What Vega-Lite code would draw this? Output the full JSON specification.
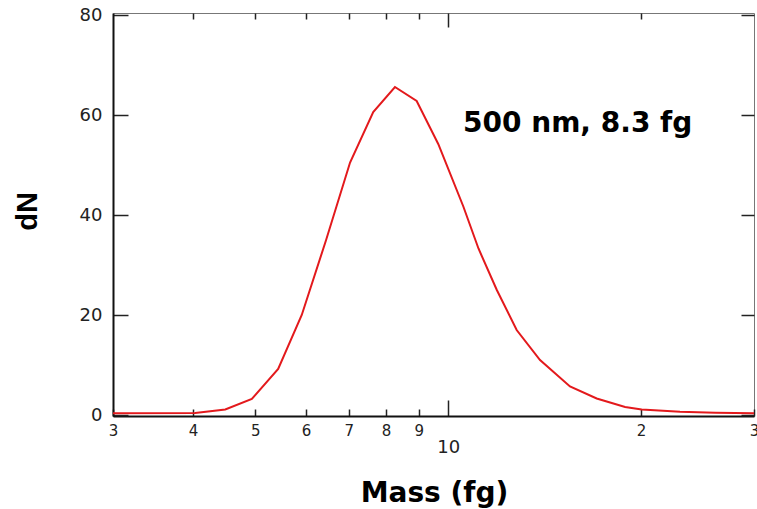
{
  "$schema": "https://vega.github.io/schema/vega-lite/v6.json",
  "width": 641,
  "height": 403,
  "autosize": "none",
  "padding": {"left": 113, "top": 13, "right": 3, "bottom": 93},
  "background": "white",
  "config": {
    "view": {"stroke": "#777", "strokeWidth": 1},
    "font": "DejaVu Sans"
  },
  "datasets": {
    "dist": [
      {"mass": 3.0, "dN": 0.35},
      {"mass": 4.03, "dN": 0.4},
      {"mass": 4.49, "dN": 1.1},
      {"mass": 4.94, "dN": 3.2},
      {"mass": 5.43, "dN": 9.2},
      {"mass": 5.91, "dN": 20.0},
      {"mass": 6.45, "dN": 35.0},
      {"mass": 7.03, "dN": 50.5},
      {"mass": 7.64, "dN": 60.6},
      {"mass": 8.26, "dN": 65.6},
      {"mass": 8.93, "dN": 62.8},
      {"mass": 9.65, "dN": 54.2},
      {"mass": 10.56, "dN": 41.7},
      {"mass": 11.15, "dN": 33.3},
      {"mass": 11.91, "dN": 25.0},
      {"mass": 12.79, "dN": 17.0},
      {"mass": 13.91, "dN": 11.0},
      {"mass": 15.49, "dN": 5.7},
      {"mass": 17.05, "dN": 3.3},
      {"mass": 18.88, "dN": 1.6},
      {"mass": 20.04, "dN": 1.1},
      {"mass": 23.0, "dN": 0.65},
      {"mass": 26.1, "dN": 0.45},
      {"mass": 30.0, "dN": 0.35}
    ],
    "note": [
      {"mass": 10.55, "dN": 56.6, "label": "500 nm, 8.3 fg"}
    ]
  },
  "layer": [
    {
      "data": {"name": "dist"},
      "mark": {"type": "line", "color": "#e3191c", "strokeWidth": 2, "clip": true},
      "encoding": {
        "x": {
          "field": "mass",
          "type": "quantitative",
          "scale": {"type": "log", "domain": [3, 30], "nice": false},
          "axis": {
            "orient": "bottom",
            "values": [3, 4, 5, 6, 7, 8, 9, 10, 20, 30],
            "labelExpr": "datum.value >= 20 ? format(datum.value / 10, 'd') : format(datum.value, 'd')",
            "grid": false,
            "domainColor": "#111",
            "domainWidth": 2,
            "tickColor": "#222",
            "tickWidth": 1.5,
            "tickSize": {"condition": {"test": "datum.value == 10", "value": -16}, "value": -7},
            "labelFontSize": {"condition": {"test": "datum.value == 10", "value": 18}, "value": 15},
            "labelPadding": {"condition": {"test": "datum.value == 10", "value": 38}, "value": 14},
            "labelColor": "#222",
            "labelFlush": false,
            "labelOverlap": false,
            "labelBound": false,
            "title": "Mass (fg)",
            "titleFont": "DejaVu Sans",
            "titleFontSize": 28,
            "titleFontWeight": "bold",
            "titleColor": "#000",
            "titleX": 321,
            "titleY": 85,
            "titleAlign": "center",
            "titleBaseline": "alphabetic"
          }
        },
        "y": {
          "field": "dN",
          "type": "quantitative",
          "scale": {"domain": [-0.2, 80.4], "nice": false, "zero": false},
          "axis": {
            "orient": "left",
            "values": [0, 20, 40, 60, 80],
            "grid": false,
            "domainColor": "#111",
            "domainWidth": 2,
            "tickColor": "#222",
            "tickWidth": 1.5,
            "tickSize": -15,
            "labelPadding": 26,
            "labelFontSize": 18,
            "labelColor": "#222",
            "labelFlush": false,
            "labelOverlap": false,
            "labelBound": false,
            "title": "dN",
            "titleFont": "Liberation Sans",
            "titleFontSize": 29,
            "titleFontWeight": "bold",
            "titleColor": "#000",
            "titleAngle": -90,
            "titleX": -77,
            "titleY": 198,
            "titleAlign": "center",
            "titleBaseline": "alphabetic"
          }
        }
      }
    },
    {
      "data": {"name": "dist"},
      "mark": {"type": "line", "strokeOpacity": 0},
      "encoding": {
        "x": {
          "field": "mass",
          "type": "quantitative",
          "axis": {
            "orient": "top",
            "values": [4, 5, 6, 7, 8, 9, 10, 20],
            "labels": false,
            "domain": false,
            "grid": false,
            "tickColor": "#222",
            "tickWidth": 1.5,
            "tickSize": {"condition": {"test": "datum.value == 10", "value": -14}, "value": -6},
            "title": null
          }
        },
        "y": {
          "field": "dN",
          "type": "quantitative",
          "axis": {
            "orient": "right",
            "values": [0, 20, 40, 60, 80],
            "labels": false,
            "domain": false,
            "grid": false,
            "tickColor": "#222",
            "tickWidth": 1.5,
            "tickSize": -13,
            "title": null
          }
        }
      }
    },
    {
      "data": {"name": "note"},
      "mark": {
        "type": "text",
        "font": "DejaVu Sans",
        "fontWeight": "bold",
        "fontSize": 28,
        "align": "left",
        "baseline": "alphabetic",
        "color": "#000"
      },
      "encoding": {
        "x": {"field": "mass", "type": "quantitative", "axis": null},
        "y": {"field": "dN", "type": "quantitative", "axis": null},
        "text": {"field": "label"}
      }
    }
  ],
  "resolve": {"axis": {"x": "independent", "y": "independent"}}
}
